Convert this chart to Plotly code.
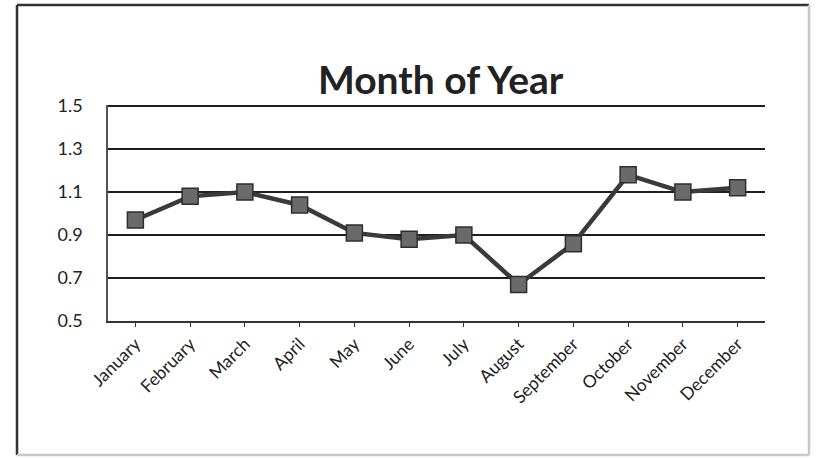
import plotly.graph_objects as go

months = ["January", "February", "March", "April", "May", "June", "July",
          "August", "September", "October", "November", "December"]
values = [0.97, 1.08, 1.10, 1.04, 0.91, 0.88, 0.90, 0.67, 0.86, 1.18, 1.10, 1.12]
y_ticks = [0.5, 0.7, 0.9, 1.1, 1.3, 1.5]
title_text = "Month of Year"

fig = go.Figure()
fig.add_trace(go.Scatter(
    x=months, y=values, mode="lines+markers",
    line=dict(color="#3a3a3a", width=4.5),
    marker=dict(symbol="square", size=16, color="#6a6a6a",
                line=dict(color="#2e2e2e", width=1.5)),
    showlegend=False,
))

fig.update_layout(
    width=816, height=458,
    margin=dict(l=108, r=51, t=105, b=137),
    paper_bgcolor="white", plot_bgcolor="white",
    title=dict(text=title_text, x=0.54, xanchor="center", y=0.825, yanchor="middle",
               font=dict(family="Lato", size=39, color="#222222", weight="bold")),
    font=dict(family="Lato", color="#222222"),
    xaxis=dict(
        type="category", range=[-0.5, 11.5],
        showline=True, linecolor="#333333", linewidth=2,
        showgrid=False, ticks="outside", ticklen=4, tickcolor="#333333",
        tickangle=-45, tickfont=dict(size=17.5, family="Lato", color="#222222"),
    ),
    yaxis=dict(
        range=[0.5, 1.505], tickvals=y_ticks, ticktext=["0.5", "0.7", "0.9", "1.1", "1.3", "1.5"],
        showline=True, linecolor="#555555", linewidth=1.5,
        showgrid=True, gridcolor="#1e1e1e", gridwidth=1.8,
        zeroline=False, ticks="", ticklabelstandoff=20,
        tickfont=dict(size=18, family="Lato", color="#222222"),
    ),
)

# outer chart frame: dark top/left, faint right/bottom
fx0, fx1 = (17 - 108) / 657, (809 - 108) / 657
fy0, fy1 = (321 - 455) / 216, (321 - 5) / 216
for (a, b, c, d, col) in [
    (fx0, fy1, fx1, fy1, "#333333"),
    (fx0, fy0, fx0, fy1, "#333333"),
    (fx1, fy0, fx1, fy1, "#c8c8c8"),
    (fx0, fy0, fx1, fy0, "#c8c8c8"),
]:
    fig.add_shape(type="line", xref="paper", yref="paper", x0=a, y0=b, x1=c, y1=d,
                  line=dict(color=col, width=2.5), layer="below")

fig.write_html("out.html")
